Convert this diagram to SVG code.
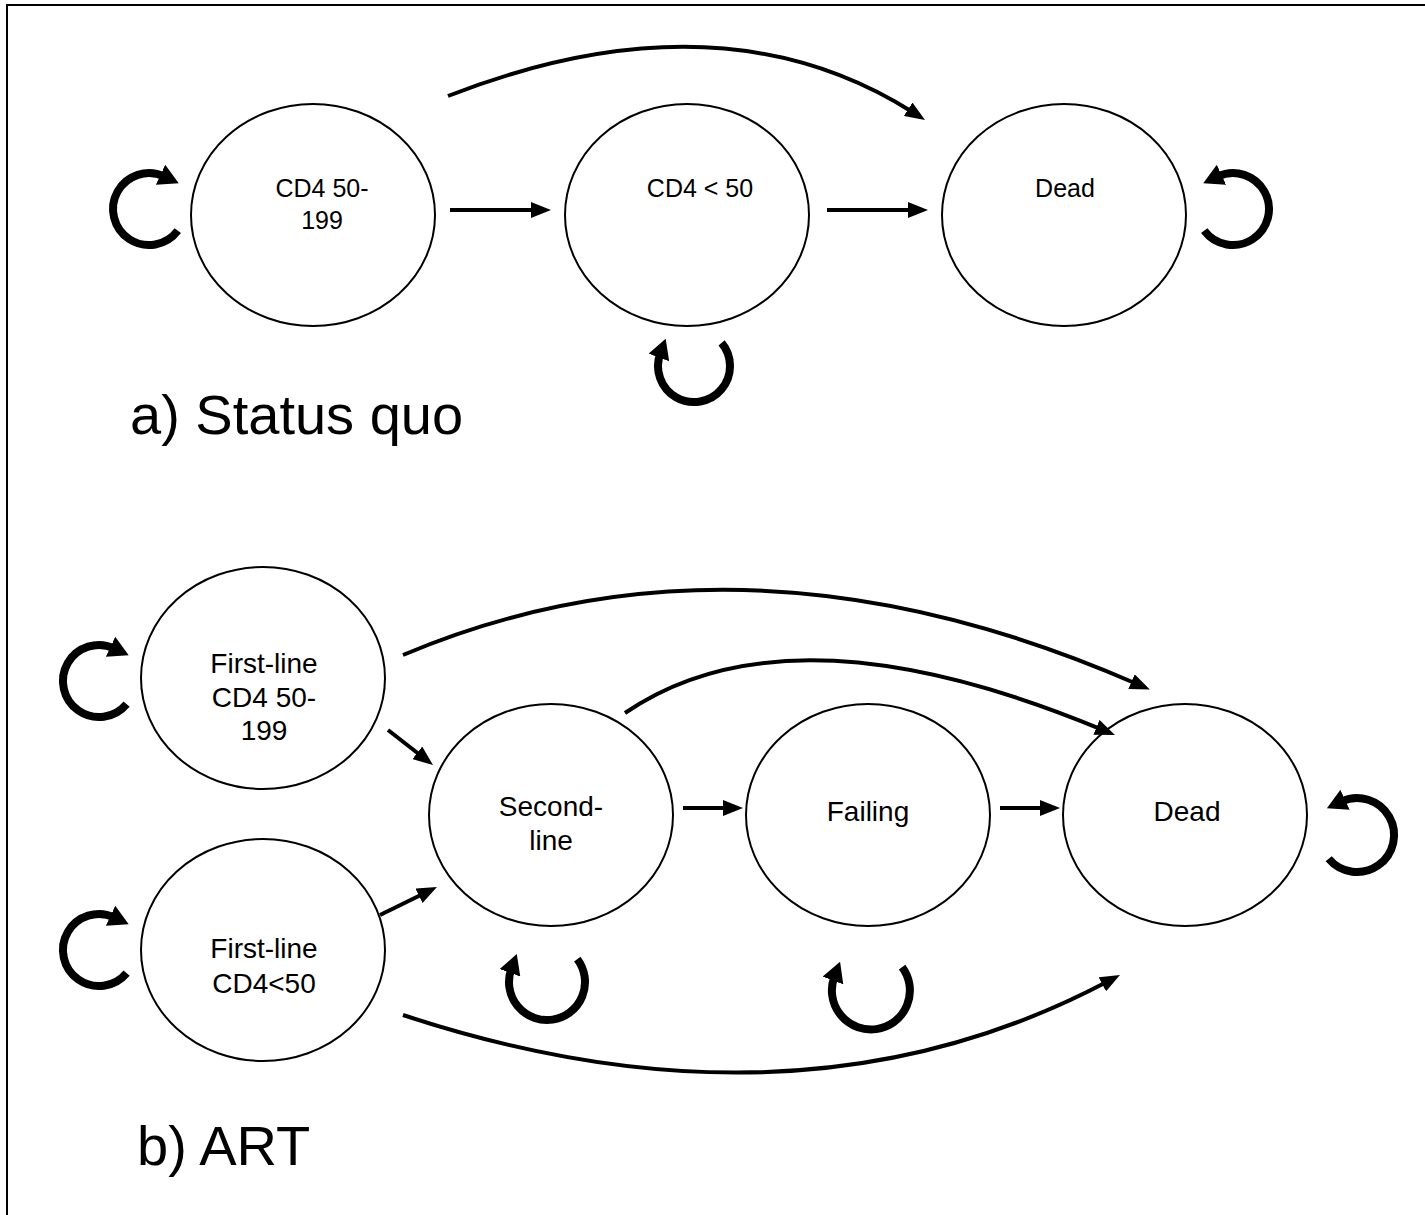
<svg xmlns="http://www.w3.org/2000/svg" width="1425" height="1215" viewBox="0 0 1425 1215">
<defs>
<style>
.node{fill:#fff;stroke:#000;stroke-width:2}
.lbl{font-family:"Liberation Sans",Arial,sans-serif;font-size:25px;fill:#000;text-anchor:middle}
.lblb{font-family:"Liberation Sans",Arial,sans-serif;font-size:28px;fill:#000;text-anchor:middle}
.title{font-family:"Liberation Sans",Arial,sans-serif;font-size:56px;fill:#000}
.edge{fill:none;stroke:#000;stroke-width:4;marker-end:url(#ah)}
.loop{fill:none;stroke:#000;stroke-width:8;marker-end:url(#lh)}
</style>
<marker id="ah" markerUnits="userSpaceOnUse" markerWidth="20" markerHeight="16" viewBox="0 0 20 16" refX="6" refY="8" orient="auto"><path d="M0,0 L20,8 L0,16 z" fill="#000"/></marker>
<marker id="lh" markerUnits="userSpaceOnUse" markerWidth="20" markerHeight="22" viewBox="0 0 20 22" refX="4" refY="11" orient="auto"><path d="M0,0 L20,11 L0,22 z" fill="#000"/></marker>
</defs>
<rect x="7" y="5" width="1430" height="1225" fill="#fff" stroke="#000" stroke-width="2"/>

<g id="a_cd4_50_199"><ellipse class="node" cx="313" cy="215" rx="122" ry="111"/><text class="lbl" x="322" y="197">CD4 50-</text><text class="lbl" x="322" y="229">199</text></g>
<g id="a_cd4_lt50"><ellipse class="node" cx="687" cy="215" rx="122" ry="111"/><text class="lbl" x="700" y="197">CD4 &lt; 50</text></g>
<g id="a_dead"><ellipse class="node" cx="1064" cy="215" rx="122" ry="111"/><text class="lbl" x="1065" y="197">Dead</text></g>
<text class="title" x="130" y="434">a) Status quo</text>

<g id="b_first_50_199"><ellipse class="node" cx="263" cy="678" rx="122" ry="111"/><text class="lblb" x="264" y="673">First-line</text><text class="lblb" x="264" y="707">CD4 50-</text><text class="lblb" x="264" y="740">199</text></g>
<g id="b_first_lt50"><ellipse class="node" cx="263" cy="950" rx="122" ry="111"/><text class="lblb" x="264" y="958">First-line</text><text class="lblb" x="264" y="993">CD4&lt;50</text></g>
<g id="b_second"><ellipse class="node" cx="551" cy="815" rx="122" ry="111"/><text class="lblb" x="551" y="816">Second-</text><text class="lblb" x="551" y="850">line</text></g>
<g id="b_failing"><ellipse class="node" cx="868" cy="815" rx="122" ry="111"/><text class="lblb" x="868" y="821">Failing</text></g>
<g id="b_dead"><ellipse class="node" cx="1185" cy="815" rx="122" ry="111"/><text class="lblb" x="1187" y="821">Dead</text></g>
<text class="title" x="137" y="1165">b) ART</text>

<g id="connectors">
<path class="edge" d="M450,210 L537,210"/>
<path class="edge" d="M827,210 L914,210"/>
<path class="edge" d="M448,96 Q720,-10 913.2,112.5"/>
<path class="loop" d="M177.8,230.7 A36,36 0 1 1 164.2,176.4"/>
<path class="loop" d="M1204.2,230.7 A36,36 0 1 0 1217.8,176.4"/>
<path class="loop" d="M721.6,342.9 A36,36 0 1 1 660.2,353.7"/>

<path class="edge" d="M388,730 L422,756.5"/>
<path class="edge" d="M380,915 L424.4,893.2"/>
<path class="edge" d="M683,808 L729,808"/>
<path class="edge" d="M1000,808 L1046,808"/>
<path class="edge" d="M403,655 Q743,511.5 1137,684"/>
<path class="edge" d="M625,713 Q790,600 1102,729.6"/>
<path class="edge" d="M403,1015 Q798,1145 1107.6,981.5"/>
<path class="loop" d="M126.6,704.1 A36,36 0 1 1 114.2,648.4"/>
<path class="loop" d="M126.6,973.1 A36,36 0 1 1 114.2,917.4"/>
<path class="loop" d="M1328.7,858.8 A37,37 0 1 0 1341.4,801.5"/>
<path class="loop" d="M577.3,959.1 A38,38 0 1 1 511.3,969"/>
<path class="loop" d="M902.1,967.1 A39,39 0 1 1 834.4,976.7"/>
</g>
</svg>
